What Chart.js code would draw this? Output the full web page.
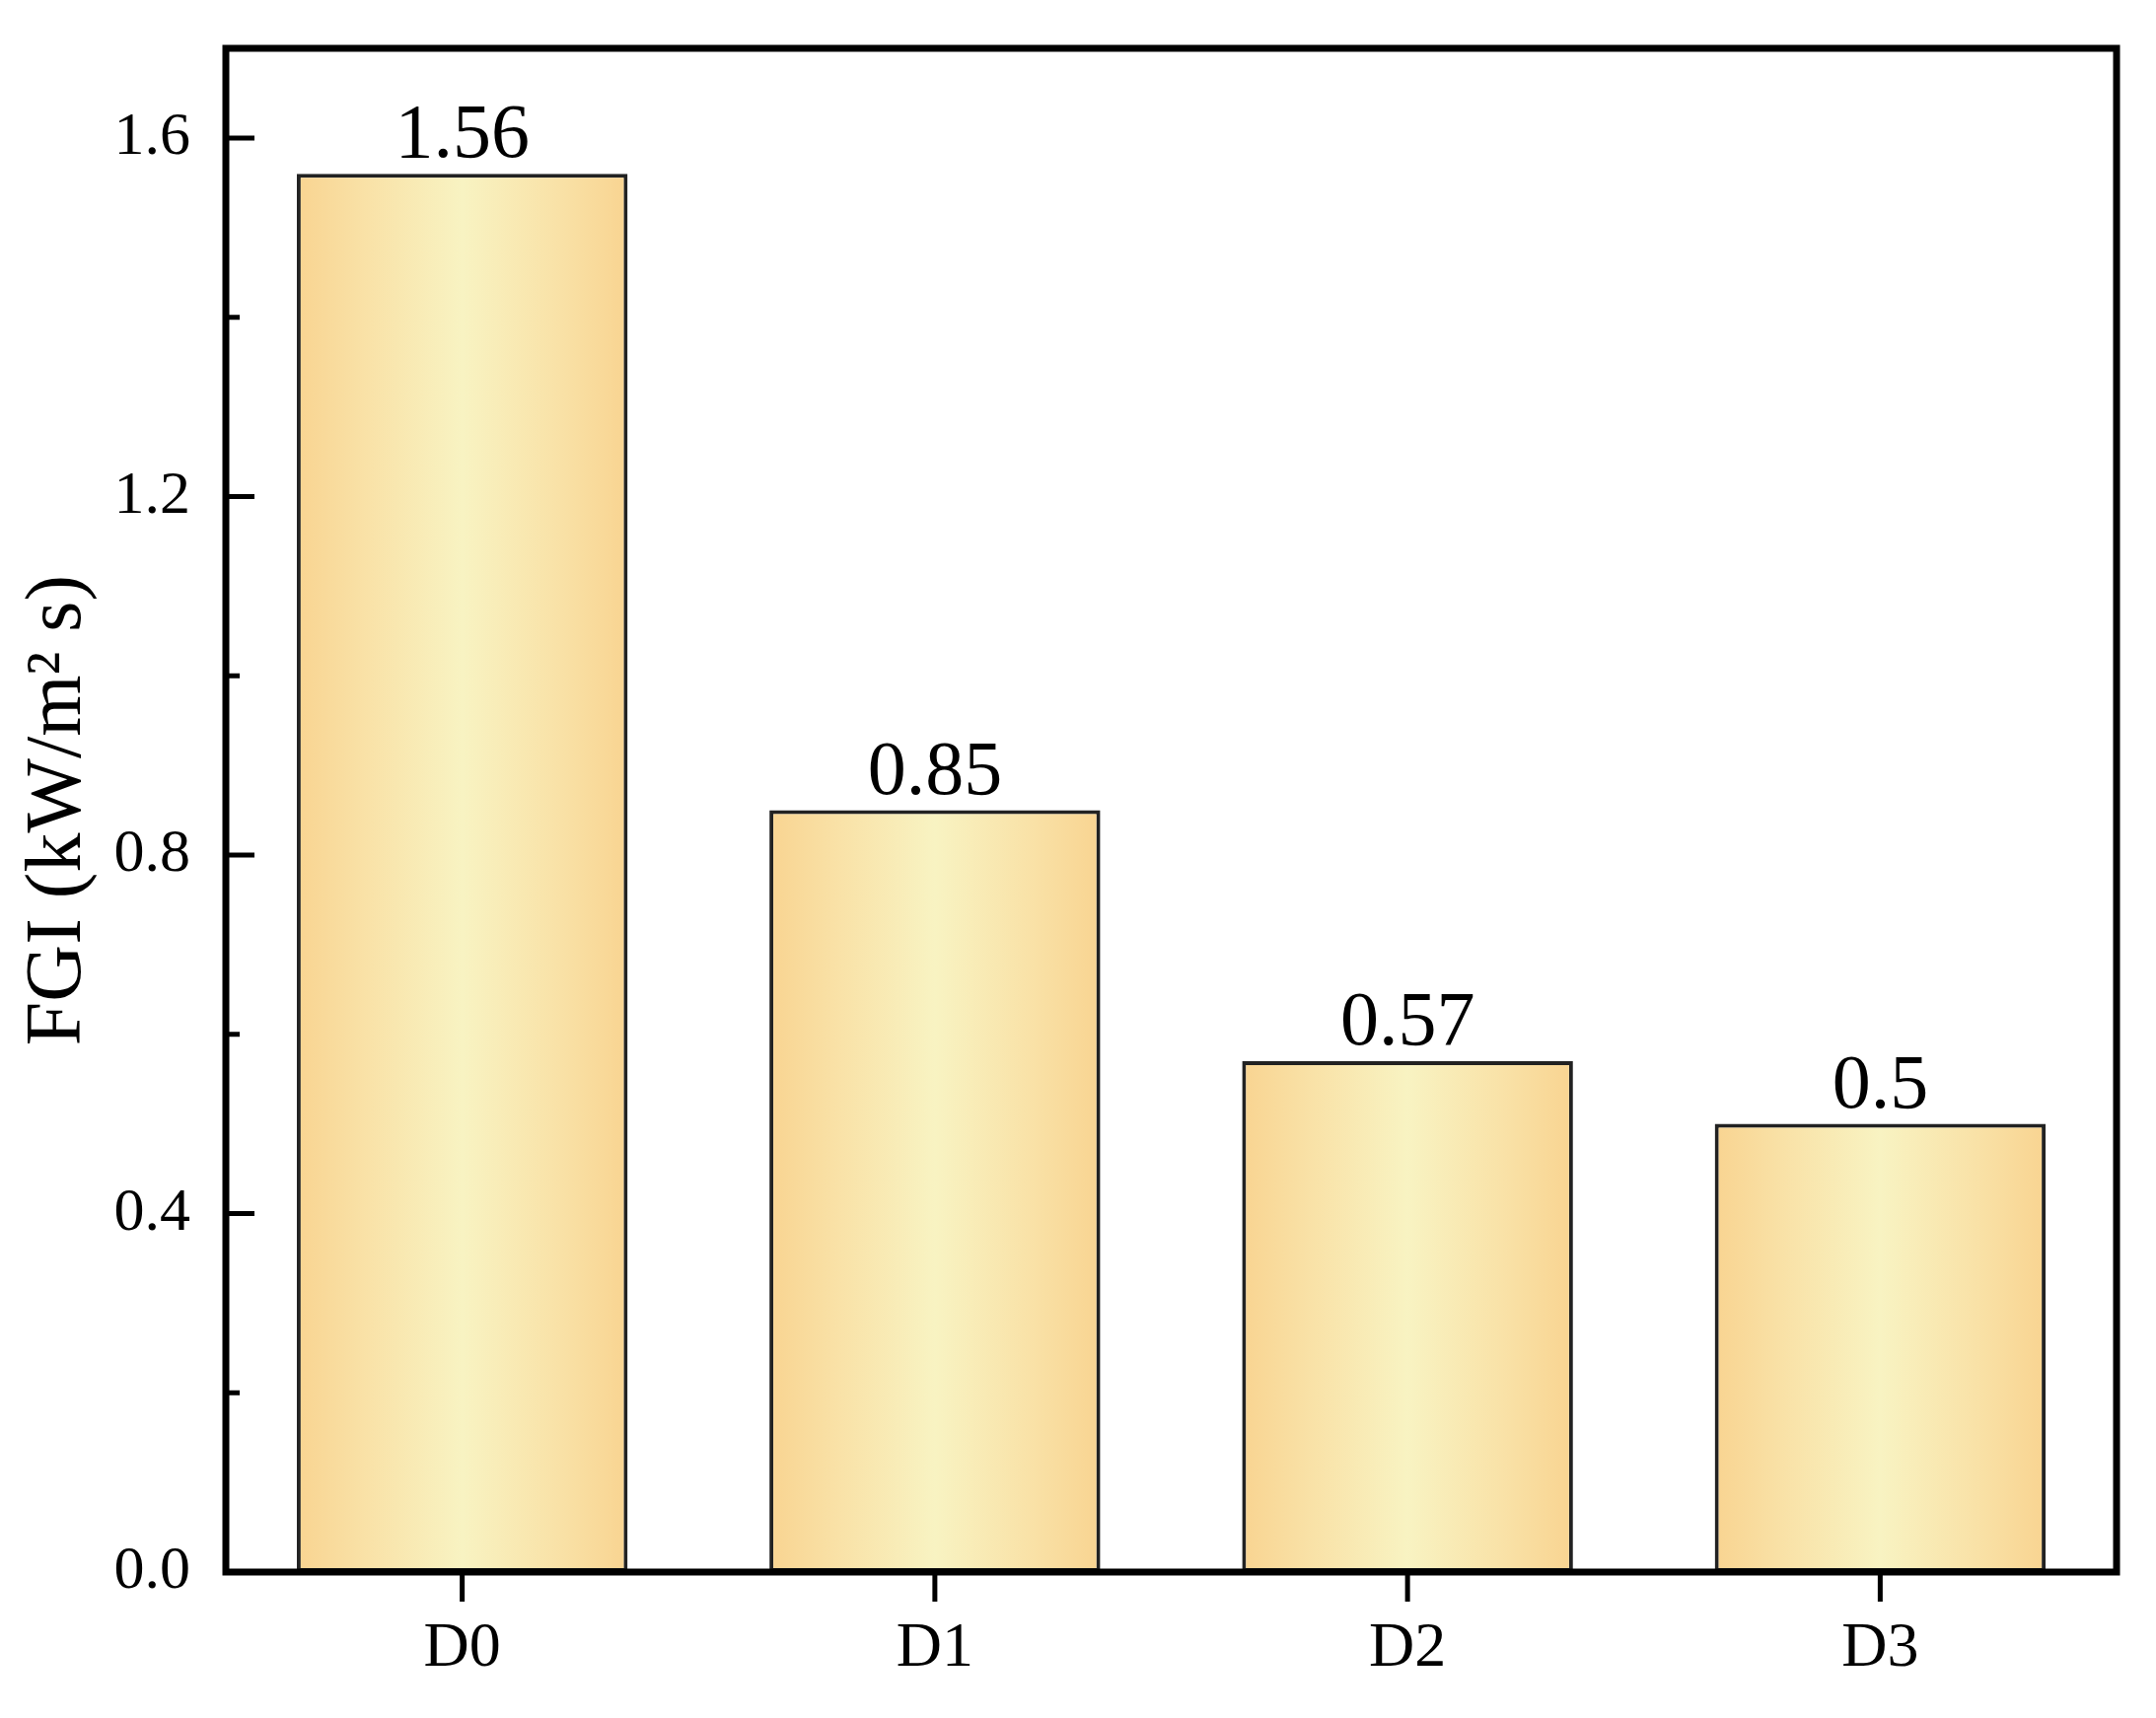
<!DOCTYPE html>
<html>
<head>
<meta charset="utf-8">
<script src="https://cdn.jsdelivr.net/npm/chart.js@4"></script>
<style>
  body { margin: 0; background: #fff; }
</style>
</head>
<body>
<canvas id="myChart" width="2186" height="1742"></canvas>
<script>
// data
const categories = ["D0", "D1", "D2", "D3"];
const fgiValues = [1.56, 0.85, 0.57, 0.5];
const yMajorTicks = [0, 0.4, 0.8, 1.2, 1.6];
const yMinorTicks = [0.2, 0.6, 1.0, 1.4];
const yTitle = "FGI (kW/m\u00B2 s)";

const serif = "'Liberation Serif', 'Times New Roman', serif";

// horizontal gradient per bar
function barGradient(ctx) {
  const chart = ctx.chart;
  const area = chart.chartArea;
  if (!area || !chart.scales.x) return "#f9e6a8";
  const xs = chart.scales.x;
  const cx = xs.getPixelForValue(ctx.dataIndex);
  const w = (area.right - area.left) / categories.length * 0.7;
  const g = chart.ctx.createLinearGradient(cx - w / 2, 0, cx + w / 2, 0);
  g.addColorStop(0, "#f9d491");
  g.addColorStop(0.2, "#f9e1a6");
  g.addColorStop(0.5, "#f8f3c2");
  g.addColorStop(0.8, "#f9e1a6");
  g.addColorStop(1, "#f9d491");
  return g;
}

// frame + inward y ticks + outward x ticks
const framePlugin = {
  id: "frame",
  afterDraw(chart) {
    const c = chart.ctx;
    const a = chart.chartArea;
    const y = chart.scales.y;
    const x = chart.scales.x;
    c.save();
    c.strokeStyle = "#000";
    c.lineWidth = 7;
    c.lineJoin = "miter";
    c.strokeRect(a.left, a.top, a.right - a.left, a.bottom - a.top);
    c.lineWidth = 5;
    c.beginPath();
    yMajorTicks.forEach((v) => {
      const py = y.getPixelForValue(v);
      c.moveTo(a.left, py);
      c.lineTo(a.left + 29, py);
    });
    yMinorTicks.forEach((v) => {
      const py = y.getPixelForValue(v);
      c.moveTo(a.left, py);
      c.lineTo(a.left + 14, py);
    });
    categories.forEach((_, i) => {
      const px = x.getPixelForValue(i);
      c.moveTo(px, a.bottom);
      c.lineTo(px, a.bottom + 30);
    });
    c.stroke();
    c.restore();
  },
};

// value labels above bars
const valueLabels = {
  id: "valueLabels",
  afterDatasetsDraw(chart) {
    const c = chart.ctx;
    const meta = chart.getDatasetMeta(0);
    c.save();
    c.fillStyle = "#000";
    c.font = "78px " + serif;
    c.textAlign = "center";
    c.textBaseline = "alphabetic";
    meta.data.forEach((bar, i) => {
      c.fillText(String(fgiValues[i]), bar.x, bar.y - 17);
    });
    c.restore();
  },
};

new Chart("myChart", {
  type: "bar",
  data: {
    labels: categories,
    datasets: [
      {
        data: fgiValues,
        backgroundColor: barGradient,
        borderColor: "#222",
        borderWidth: 4,
        borderSkipped: false,
        barPercentage: 0.7,
        categoryPercentage: 1,
      },
    ],
  },
  options: {
    responsive: false,
    animation: false,
    devicePixelRatio: 1,
    layout: { padding: { top: 49, right: 40, left: 0, bottom: 0 } },
    plugins: {
      legend: { display: false },
      tooltip: { enabled: false },
    },
    scales: {
      x: {
        offset: true,
        grid: { display: false, drawTicks: false },
        border: { display: false },
        ticks: {
          color: "#000",
          padding: 46,
          font: { family: serif, size: 64, lineHeight: 1 },
        },
        afterFit(scale) {
          scale.height = 148;
          scale.paddingLeft = 0;
          scale.paddingRight = 0;
        },
      },
      y: {
        min: 0,
        max: 1.7,
        grid: { display: false, drawTicks: false },
        border: { display: false },
        ticks: {
          stepSize: 0.2,
          autoSkip: false,
          color: "#000",
          padding: 36,
          font: { family: serif, size: 62, lineHeight: 1 },
          callback: (v) => {
            const k = v / 0.4;
            if (Math.abs(k - Math.round(k)) < 1e-6 && v <= 1.6001) return v.toFixed(1);
            return "";
          },
        },
        title: {
          display: true,
          text: yTitle,
          color: "#000",
          padding: { top: 20, bottom: 0 },
          font: { family: serif, size: 80, lineHeight: 1 },
        },
        afterFit(scale) {
          scale.width = 229;
          scale.paddingTop = 0;
          scale.paddingBottom = 0;
        },
      },
    },
  },
  plugins: [framePlugin, valueLabels],
});
</script>
</body>
</html>
